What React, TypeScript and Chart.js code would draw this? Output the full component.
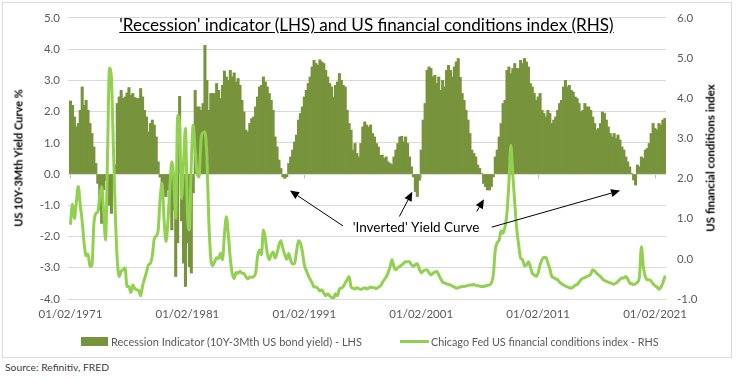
import React, { useEffect, useRef } from 'react';
import { Chart, registerables } from 'chart.js';

Chart.register(...registerables);

// ---- Data (bi-monthly observations, first one 1 Feb 1971) ----
const START_YEAR = 1971;
const START_MONTH = 2;
const STEP_MONTHS = 2;

// 10Y - 3M US Treasury spread, % (left axis)
const yieldCurveSpread: number[] = [
  2.34, 2.2, 1.83, 1.51, 1.62, 2.04, // 1971
  2.79, 2.2, 2.36, 2.04, 1.62, 1.3, // 1972
  0.87, 0.34, -0.3, -1.15, -1.58, -0.5, // 1973
  -0.2, -0.94, -1.0, -1.26, -0.1, 0.3, // 1974
  2.26, 2.47, 2.68, 2.42, 2.47, 2.6, // 1975
  2.77, 2.52, 2.58, 2.45, 2.42, 2.42, // 1976
  2.74, 2.47, 2.04, 1.83, 1.35, 1.62, // 1977
  1.73, 1.57, 1.19, 0.39, -0.1, -0.5, // 1978
  -0.72, -0.72, -0.51, -0.51, -1.79, -1.15, // 1979
  -3.28, -2.2, 2.49, -1.5, -2.85, -3.6, // 1980
  -2.2, -2.96, -3.17, -0.6, 2.68, 2.15, // 1981
  2.15, 2.04, 2.26, 4.12, 3.0, 2.04, // 1982
  2.58, 2.58, 2.58, 2.9, 2.68, 2.42, // 1983
  2.84, 3.3, 3.11, 3.0, 3.32, 3.11, // 1984
  3.24, 2.95, 3.06, 2.84, 2.36, 1.99, // 1985
  1.41, 1.35, 1.62, 1.78, 1.83, 2.15, // 1986
  2.47, 2.79, 2.84, 3.11, 2.95, 2.79, // 1987
  2.58, 2.36, 2.04, 1.19, 0.87, 0.45, // 1988
  0.18, -0.09, -0.14, -0.09, 0.34, 0.55, // 1989
  0.77, 1.03, 1.25, 1.73, 1.94, 2.15, // 1990
  2.47, 2.68, 2.9, 3.11, 3.43, 3.64, // 1991
  3.54, 3.48, 3.66, 3.59, 3.54, 3.32, // 1992
  3.11, 2.9, 2.79, 2.47, 2.84, 2.95, // 1993
  3.22, 3.0, 2.84, 2.79, 2.04, 1.62, // 1994
  1.41, 0.77, 0.98, 0.66, 0.55, 0.98, // 1995
  1.51, 1.67, 1.57, 1.5, 1.57, 1.3, // 1996
  1.19, 0.98, 0.87, 0.6, 0.61, 0.5, // 1997
  0.55, 0.39, 0.34, 0.3, 0.55, 0.77, // 1998
  0.98, 1.19, 1.21, 1.03, 1.19, 0.98, // 1999
  0.55, 0.23, -0.09, -0.56, -0.72, -0.2, // 2000
  0.77, 1.73, 2.26, 3.32, 3.43, 3.38, // 2001
  3.11, 3.16, 2.9, 3.11, 2.68, 3.0, // 2002
  2.79, 3.32, 3.48, 3.32, 3.11, 3.43, // 2003
  3.59, 3.7, 3.1, 2.58, 2.36, 2.04, // 2004
  1.73, 1.3, 0.77, 0.66, 0.55, 0.29, // 2005
  0.18, 0.02, -0.3, -0.4, -0.51, -0.51, // 2006
  -0.4, -0.09, 0.55, 0.77, 1.19, 1.62, // 2007
  2.26, 2.36, 3.32, 3.43, 3.22, 3.38, // 2008
  3.54, 3.38, 3.38, 3.64, 3.54, 3.7, // 2009
  3.59, 3.43, 2.9, 2.79, 2.58, 2.36, // 2010
  2.47, 2.58, 2.04, 1.94, 1.83, 2.04, // 2011
  1.94, 1.62, 1.73, 1.83, 2.04, 2.26, // 2012
  2.36, 2.79, 3.0, 2.79, 2.84, 2.68, // 2013
  2.63, 2.47, 2.42, 2.26, 1.99, 2.04, // 2014
  2.26, 2.15, 2.15, 2.04, 1.83, 1.62, // 2015
  1.41, 1.46, 1.62, 1.99, 1.94, 1.73, // 2016
  1.51, 1.3, 1.19, 1.3, 1.14, 1.25, // 2017
  1.09, 0.87, 0.77, 0.55, 0.39, 0.23, // 2018
  0.02, -0.19, -0.35, 0.29, 0.23, 0.55, // 2019
  0.5, 0.77, 0.82, 0.98, 1.3, 1.62, // 2020
  1.46, 1.41, 1.62, 1.57, 1.73, 1.78, // 2021
];

// Chicago Fed National Financial Conditions Index (right axis)
const financialConditions: number[] = [
  0.88, 1.36, 1.0, 1.42, 1.8, 1.34, // 1971
  0.94, 0.39, 0.08, 0.12, -0.19, -0.16, // 1972
  0.87, 1.13, 1.17, 1.55, 1.8, 1.17, // 1973
  0.47, 2.54, 4.75, 4.5, 2.79, 1.13, // 1974
  -0.02, -0.44, -0.31, -0.27, -0.23, -0.69, // 1975
  -0.69, -0.84, -0.65, -0.74, -0.77, -0.79, // 1976
  -0.92, -0.67, -0.5, -0.33, -0.15, -0.11, // 1977
  0.08, 0.5, 0.57, 0.72, 1.5, 1.88, // 1978
  1.01, 0.43, 0.93, 1.79, 2.42, 2.0, // 1979
  1.01, 3.57, 3.33, 1.5, 2.37, 3.25, // 1980
  1.17, 0.72, 2.37, 3.33, 2.7, 2.13, // 1981
  2.04, 2.99, 3.14, 3.16, 2.54, 0.93, // 1982
  0.02, -0.17, -0.07, 0.03, 0.01, 0.14, // 1983
  -0.02, 0.6, 1.05, 0.6, 0.02, -0.36, // 1984
  -0.49, -0.34, -0.36, -0.31, -0.36, -0.36, // 1985
  -0.45, -0.5, -0.45, -0.46, -0.44, -0.36, // 1986
  0.06, 0.22, 0.1, 0.72, 0.5, 0.14, // 1987
  -0.02, 0.1, 0.17, 0.02, 0.14, 0.35, // 1988
  0.45, 0.26, 0.1, -0.01, 0.13, -0.04, // 1989
  -0.13, -0.11, 0.18, 0.45, 0.39, 0.18, // 1990
  -0.15, -0.29, -0.41, -0.51, -0.6, -0.7, // 1991
  -0.7, -0.74, -0.8, -0.77, -0.85, -0.92, // 1992
  -0.87, -0.92, -0.96, -0.98, -0.87, -0.92, // 1993
  -0.75, -0.73, -0.69, -0.6, -0.52, -0.44, // 1994
  -0.7, -0.73, -0.75, -0.72, -0.74, -0.76, // 1995
  -0.74, -0.72, -0.75, -0.73, -0.7, -0.72, // 1996
  -0.72, -0.74, -0.7, -0.68, -0.6, -0.52, // 1997
  -0.45, -0.35, -0.2, -0.02, -0.2, -0.27, // 1998
  -0.22, -0.19, -0.15, -0.11, -0.07, -0.07, // 1999
  -0.07, -0.15, -0.19, -0.14, -0.12, -0.25, // 2000
  -0.35, -0.3, -0.28, -0.27, -0.35, -0.4, // 2001
  -0.36, -0.33, -0.31, -0.4, -0.5, -0.58, // 2002
  -0.6, -0.62, -0.64, -0.65, -0.68, -0.7, // 2003
  -0.73, -0.72, -0.7, -0.69, -0.69, -0.68, // 2004
  -0.66, -0.65, -0.65, -0.64, -0.66, -0.67, // 2005
  -0.68, -0.69, -0.69, -0.67, -0.66, -0.65, // 2006
  -0.6, -0.4, 0.22, 0.4, 0.47, 0.7, // 2007
  0.64, 0.8, 1.13, 1.9, 2.83, 2.1, // 2008
  1.4, 0.75, 0.35, 0.02, -0.02, -0.17, // 2009
  -0.15, -0.07, -0.2, -0.36, -0.4, -0.44, // 2010
  -0.35, -0.15, -0.02, 0.04, 0.03, -0.1, // 2011
  -0.25, -0.44, -0.47, -0.5, -0.52, -0.58, // 2012
  -0.62, -0.65, -0.68, -0.7, -0.72, -0.73, // 2013
  -0.7, -0.66, -0.64, -0.58, -0.52, -0.48, // 2014
  -0.47, -0.44, -0.42, -0.38, -0.27, -0.3, // 2015
  -0.36, -0.4, -0.44, -0.5, -0.54, -0.56, // 2016
  -0.58, -0.6, -0.62, -0.63, -0.6, -0.56, // 2017
  -0.51, -0.48, -0.48, -0.44, -0.5, -0.6, // 2018
  -0.62, -0.64, -0.62, -0.58, -0.45, 0.3, // 2019
  -0.2, -0.44, -0.52, -0.52, -0.55, -0.62, // 2020
  -0.67, -0.7, -0.76, -0.71, -0.6, -0.45, // 2021
];

const xTickYears = [1971, 1981, 1991, 2001, 2011, 2021];
const xTickLabels = ['01/02/1971', '01/02/1981', '01/02/1991', '01/02/2001', '01/02/2011', '01/02/2021'];

const leftAxisRange = { min: -4, max: 5, step: 1 };
const rightAxisRange = { min: -1, max: 6, step: 1 };

const seriesNames = [
  'Recession Indicator (10Y-3Mth US bond yield) - LHS',
  'Chicago Fed US financial conditions index - RHS',
];
const chartTitle = "'Recession' indicator (LHS) and US financial conditions index (RHS)";
const leftAxisTitle = 'US 10Y-3Mth Yield Curve %';
const rightAxisTitle = 'US financial conditions index';
const sourceText = 'Source: Refinitiv, FRED';

// Annotation, in data units (decimal year, left-axis %)
const annotationLabel = "'Inverted' Yield Curve";
const annotationAt = { x: 2000.64, y: -1.73 };
const annotationArrows = [
  { from: [1994.39, -1.66], to: [1989.86, -0.53] },
  { from: [1999.21, -1.36], to: [2000.32, -0.57] },
  { from: [2005.83, -1.2], to: [2006.45, -0.81] },
  { from: [2007.11, -1.7], to: [2018.09, -0.53] },
];

// ---- Styling ----
const FONT = 'Lato, Carlito, "Noto Sans", sans-serif';
const BAR_COLOR = '#77933c';
const LINE_COLOR = '#92d050';
const GRID_COLOR = '#d9d9d9';
const LABEL_COLOR = '#595959';

const dateAt = (i: number) => START_YEAR + (START_MONTH - 1 + i * STEP_MONTHS) / 12;
const tickValue = (year: number) => year + (START_MONTH - 1) / 12;

const annotationPlugin = {
  id: 'inversionNotes',
  beforeDatasetsDraw(chart: any) {
    const { ctx, scales } = chart;
    const x = scales.x;
    const y = scales.y;
    const y0 = Math.round(y.getPixelForValue(0)) + 0.5;
    ctx.save();
    ctx.strokeStyle = '#bfbfbf';
    ctx.lineWidth = 1;
    xTickYears.forEach((yr) => {
      const px = Math.round(x.getPixelForValue(tickValue(yr))) + 0.5;
      ctx.beginPath();
      ctx.moveTo(px, y0);
      ctx.lineTo(px, y0 + 4);
      ctx.stroke();
    });
    ctx.restore();
  },
  afterDatasetsDraw(chart: any) {
    const { ctx, scales } = chart;
    const x = scales.x;
    const y = scales.y;
    ctx.save();
    ctx.strokeStyle = '#000';
    ctx.fillStyle = '#000';
    ctx.lineWidth = 1;
    annotationArrows.forEach((a) => {
      const x1 = x.getPixelForValue(a.from[0]);
      const y1 = y.getPixelForValue(a.from[1]);
      const x2 = x.getPixelForValue(a.to[0]);
      const y2 = y.getPixelForValue(a.to[1]);
      const ang = Math.atan2(y2 - y1, x2 - x1);
      const headLen = 9;
      const headHalf = 4;
      const bx = x2 - Math.cos(ang) * headLen;
      const by = y2 - Math.sin(ang) * headLen;
      ctx.beginPath();
      ctx.moveTo(x1, y1);
      ctx.lineTo(bx, by);
      ctx.stroke();
      ctx.beginPath();
      ctx.moveTo(x2, y2);
      ctx.lineTo(bx + Math.sin(ang) * headHalf, by - Math.cos(ang) * headHalf);
      ctx.lineTo(bx - Math.sin(ang) * headHalf, by + Math.cos(ang) * headHalf);
      ctx.closePath();
      ctx.fill();
    });
    ctx.font = `13.5px ${FONT}`;
    ctx.textAlign = 'center';
    ctx.textBaseline = 'middle';
    ctx.fillText(annotationLabel, x.getPixelForValue(annotationAt.x), y.getPixelForValue(annotationAt.y));
    ctx.restore();
  },
};

export default function App() {
  const canvasRef = useRef<HTMLCanvasElement | null>(null);

  useEffect(() => {
    document.body.style.margin = '0';
    const canvas = canvasRef.current;
    if (!canvas) return;
    const chart = new Chart(canvas, {
      type: 'bar',
      data: {
        datasets: [
          {
            type: 'line',
            label: seriesNames[1],
            data: financialConditions.map((v, i) => ({ x: dateAt(i), y: v })),
            yAxisID: 'y1',
            borderColor: LINE_COLOR,
            backgroundColor: LINE_COLOR,
            borderWidth: 3,
            pointRadius: 0,
            cubicInterpolationMode: 'monotone',
            borderJoinStyle: 'round',
            borderCapStyle: 'round',
            order: 1,
          } as any,
          {
            type: 'bar',
            label: seriesNames[0],
            data: yieldCurveSpread.map((v, i) => ({ x: dateAt(i), y: v })),
            yAxisID: 'y',
            backgroundColor: BAR_COLOR,
            borderWidth: 0,
            barThickness: 2.4,
            order: 2,
          } as any,
        ],
      },
      options: {
        responsive: false,
        animation: false,
        devicePixelRatio: 1,
        layout: { padding: { top: 17, left: 0, right: 0, bottom: 0 } },
        plugins: { legend: { display: false }, tooltip: { enabled: false }, title: { display: false } },
        scales: {
          x: {
            type: 'linear',
            min: 1970.87,
            max: 2022.02,
            offset: false,
            grid: { display: false, drawTicks: false },
            border: { display: false },
            afterBuildTicks: (scale: any) => {
              scale.ticks = xTickYears.map((yr) => ({ value: tickValue(yr) }));
            },
            afterFit: (scale: any) => {
              scale.height = 58;
            },
            ticks: {
              autoSkip: false,
              maxRotation: 0,
              padding: 8,
              color: LABEL_COLOR,
              font: { family: FONT, size: 11.5 },
              callback: (_v: any, idx: number) => xTickLabels[idx],
            },
          },
          y: {
            type: 'linear',
            position: 'left',
            min: leftAxisRange.min,
            max: leftAxisRange.max,
            grid: { color: GRID_COLOR, drawTicks: false, lineWidth: 1 },
            border: { display: false },
            afterFit: (scale: any) => {
              scale.width = 68;
            },
            ticks: {
              stepSize: leftAxisRange.step,
              padding: 8,
              color: LABEL_COLOR,
              font: { family: FONT, size: 11.5 },
              callback: (v: any) => Number(v).toFixed(1),
            },
          },
          y1: {
            type: 'linear',
            position: 'right',
            min: rightAxisRange.min,
            max: rightAxisRange.max,
            grid: { display: false, drawOnChartArea: false, drawTicks: false },
            border: { display: false },
            afterFit: (scale: any) => {
              scale.width = 73;
            },
            ticks: {
              stepSize: rightAxisRange.step,
              padding: 11,
              color: LABEL_COLOR,
              font: { family: FONT, size: 11.5 },
              callback: (v: any) => Number(v).toFixed(1),
            },
          },
        },
      } as any,
      plugins: [annotationPlugin],
    });
    return () => chart.destroy();
  }, []);

  return (
    <div style={{ position: 'relative', width: 739, height: 380, background: '#fff', fontFamily: FONT, overflow: 'hidden' }}>
      <div style={{ position: 'absolute', left: 2, top: 2, width: 730, height: 356, border: '1px solid #d9d9d9', boxSizing: 'border-box' }} />
      <canvas ref={canvasRef} width={739} height={357} style={{ position: 'absolute', left: 0, top: 0, width: 739, height: 357 }} />
      <div style={{ position: 'absolute', left: 0, top: 14, width: 733, textAlign: 'center', fontSize: 17.1, lineHeight: '21px', color: '#000', textDecoration: 'underline', whiteSpace: 'nowrap' }}>
        {chartTitle}
      </div>
      <div style={{ position: 'absolute', left: 17.5, top: 158, transform: 'translate(-50%, -50%) rotate(-90deg)', fontSize: 11, fontWeight: 700, color: '#000', whiteSpace: 'nowrap' }}>
        {leftAxisTitle}
      </div>
      <div style={{ position: 'absolute', left: 710, top: 158, transform: 'translate(-50%, -50%) rotate(-90deg)', fontSize: 11.5, fontWeight: 700, color: '#000', whiteSpace: 'nowrap' }}>
        {rightAxisTitle}
      </div>
      <div style={{ position: 'absolute', left: 81, top: 337, width: 27, height: 9, background: BAR_COLOR }} />
      <div style={{ position: 'absolute', left: 111, top: 333.5, fontSize: 11, lineHeight: '15px', color: LABEL_COLOR, whiteSpace: 'nowrap' }}>
        {seriesNames[0]}
      </div>
      <div style={{ position: 'absolute', left: 400, top: 340, width: 29, height: 3, background: LINE_COLOR }} />
      <div style={{ position: 'absolute', left: 431, top: 333.5, fontSize: 10.8, lineHeight: '15px', color: LABEL_COLOR, whiteSpace: 'nowrap' }}>
        {seriesNames[1]}
      </div>
      <div style={{ position: 'absolute', left: 5, top: 360, fontSize: 10.3, lineHeight: '14px', color: '#404040', whiteSpace: 'nowrap' }}>
        {sourceText}
      </div>
    </div>
  );
}
